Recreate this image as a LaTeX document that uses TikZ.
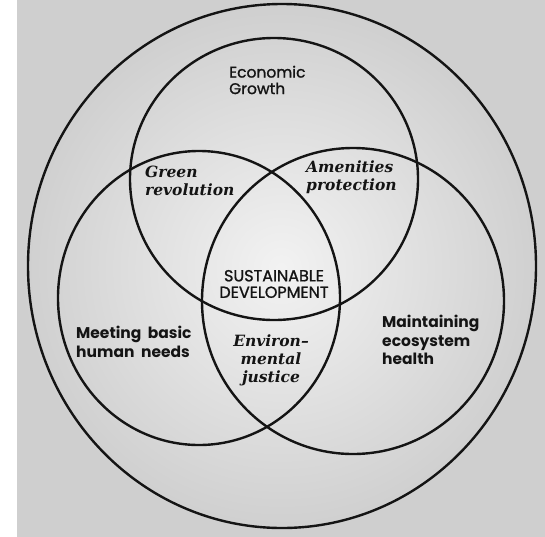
\documentclass[tikz,border=0pt]{standalone}
\usepackage{fontspec}
\setmainfont{Poppins}
\newfontfamily\medsans[FakeBold=1.2]{Poppins}
\newfontfamily\handserif{DejaVu Serif}
\begin{document}
\begin{tikzpicture}[x=1pt,y=-1pt,
  ring/.style={draw=black!92, line width=2.4pt},
  plainlabel/.style={inner sep=0pt, align=left, text=black!92,
    font=\medsans\fontsize{15.5}{16.5}\selectfont},
  heavylabel/.style={inner sep=0pt, align=left, text=black!92,
    font=\bfseries\fontsize{15.5}{18.5}\selectfont},
  slantlabel/.style={inner sep=0pt, align=left, text=black!92,
    font=\handserif\bfseries\itshape\fontsize{15.5}{18}\selectfont},
  caplabel/.style={inner sep=0pt, align=center, text=black!92,
    font=\medsans\fontsize{16}{16.5}\selectfont}]
% page and paper tone
\useasboundingbox (0,0) rectangle (545,536);
\fill[white] (0,0) rectangle (545,536);
\shade[inner color=black!5, outer color=black!19] (17,0) rectangle (545,536);

% centres of the four rings
\coordinate (whole) at (282,266);
\coordinate (econ)  at (274,179);
\coordinate (human) at (199,298);
\coordinate (eco)   at (353,301);

% rings
\draw[ring] (whole) ellipse [x radius=254pt, y radius=262pt];
\draw[ring] (econ)  ellipse [x radius=144pt, y radius=141pt];
\draw[ring] (human) ellipse [x radius=141pt, y radius=147pt];
\draw[ring] (eco)   ellipse [x radius=151pt, y radius=153pt];

% labels
\node[plainlabel, anchor=west] (growth) at (229,80) {Economic\\Growth};
\node[slantlabel, anchor=west] (green) at (145,181) {Green\\revolution};
\node[slantlabel, anchor=west] (amen) at (306,177) {Amenities\\protection};
\node[caplabel] (sd) at (274,284) {SUSTAINABLE\\DEVELOPMENT};
\node[heavylabel, anchor=west] (needs) at (76,342) {Meeting\ \ basic\\human\ \ needs};
\node[slantlabel, align=center] (justice) at (271,360) {Environ–\\mental\\justice};
\node[heavylabel, anchor=west] (health) at (382,340) {Maintaining\\ecosystem\\health};
\end{tikzpicture}
\end{document}
